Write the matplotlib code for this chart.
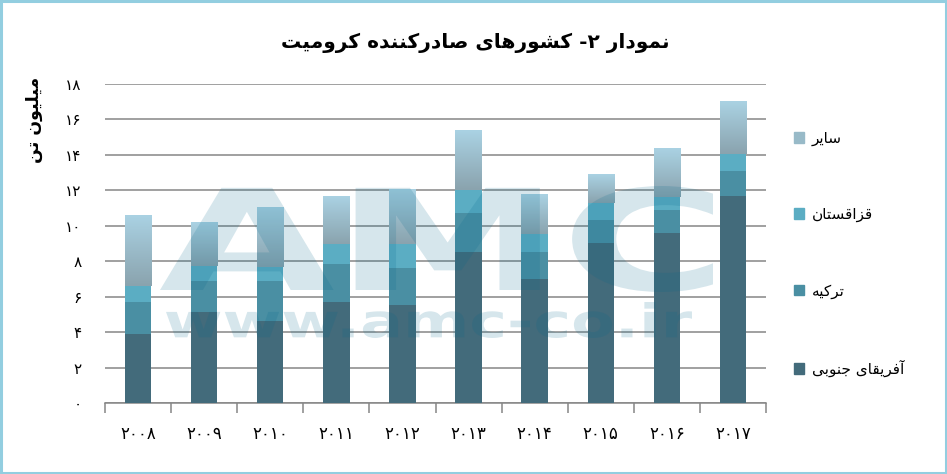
import matplotlib
matplotlib.use("Agg")
import matplotlib.pyplot as plt
import numpy as np
from matplotlib.colors import LinearSegmentedColormap
from matplotlib.patches import Patch, PathPatch, Rectangle
from matplotlib.textpath import TextPath
from matplotlib.font_manager import FontProperties
from matplotlib.transforms import Affine2D

# data (million tonnes)
years = ["۲۰۰۸", "۲۰۰۹", "۲۰۱۰", "۲۰۱۱", "۲۰۱۲", "۲۰۱۳", "۲۰۱۴", "۲۰۱۵", "۲۰۱۶", "۲۰۱۷"]
south_africa = [3.90, 5.14, 4.63, 5.70, 5.53, 8.52, 7.00, 9.03, 9.59, 11.68]
turkey = [1.80, 1.74, 2.25, 2.14, 2.11, 2.20, 1.52, 1.30, 1.30, 1.41]
kazakhstan = [0.90, 0.85, 0.79, 1.16, 1.33, 1.30, 1.02, 0.96, 0.71, 0.94]
other = [3.95, 2.48, 3.33, 2.68, 3.09, 3.38, 2.24, 1.63, 2.73, 2.95]
series_names = ["آفریقای جنوبی", "ترکیه", "قزاقستان", "سایر"]
y_ticks = [0, 2, 4, 6, 8, 10, 12, 14, 16, 18]
y_tick_labels = ["۰", "۲", "۴", "۶", "۸", "۱۰", "۱۲", "۱۴", "۱۶", "۱۸"]
title = "نمودار ۲- کشورهای صادرکننده کرومیت"
y_label = "میلیون تن"

W, H = 947, 474

# matplotlib has no arabic shaping, so pick presentation forms by hand
# (isolated, final, initial, medial)
FORMS = {
    "ا": (0xFE8D, 0xFE8E), "آ": (0xFE81, 0xFE82), "د": (0xFEA9, 0xFEAA),
    "ر": (0xFEAD, 0xFEAE), "ز": (0xFEAF, 0xFEB0), "و": (0xFEED, 0xFEEE),
    "ب": (0xFE8F, 0xFE90, 0xFE91, 0xFE92), "ت": (0xFE95, 0xFE96, 0xFE97, 0xFE98),
    "ج": (0xFE9D, 0xFE9E, 0xFE9F, 0xFEA0), "س": (0xFEB1, 0xFEB2, 0xFEB3, 0xFEB4),
    "ش": (0xFEB5, 0xFEB6, 0xFEB7, 0xFEB8), "ص": (0xFEB9, 0xFEBA, 0xFEBB, 0xFEBC),
    "ف": (0xFED1, 0xFED2, 0xFED3, 0xFED4), "ق": (0xFED5, 0xFED6, 0xFED7, 0xFED8),
    "ک": (0xFB8E, 0xFB8F, 0xFB90, 0xFB91), "ل": (0xFEDD, 0xFEDE, 0xFEDF, 0xFEE0),
    "م": (0xFEE1, 0xFEE2, 0xFEE3, 0xFEE4), "ن": (0xFEE5, 0xFEE6, 0xFEE7, 0xFEE8),
    "ه": (0xFEE9, 0xFEEA, 0xFEEB, 0xFEEC), "ی": (0xFBFC, 0xFBFD, 0xFBFE, 0xFBFF),
}
DIGITS = set("۰۱۲۳۴۵۶۷۸۹0123456789")


def shape(s):
    out = []
    for i, ch in enumerate(s):
        f = FORMS.get(ch)
        if f is None:
            out.append(ch)
            continue
        prev = s[i - 1] if i > 0 else ""
        nxt = s[i + 1] if i + 1 < len(s) else ""
        jp = prev in FORMS and len(FORMS[prev]) == 4
        jn = len(f) == 4 and nxt in FORMS
        if jp and jn:
            out.append(chr(f[3]))
        elif jp:
            out.append(chr(f[1]))
        elif jn:
            out.append(chr(f[2]))
        else:
            out.append(chr(f[0]))
    # visual order: reverse, but keep digit runs left to right
    runs = []
    for ch in out:
        if runs and ch in DIGITS and runs[-1][0] in DIGITS:
            runs[-1] += ch
        else:
            runs.append(ch)
    return "".join(reversed(runs))


def stamp(fig, text, x0, y0, x1, y1):
    path = TextPath((0, 0), text, size=100,
                    prop=FontProperties(family="DejaVu Sans", weight="bold"))
    ext = path.get_extents()
    tr = (Affine2D().translate(-ext.x0, -ext.y0)
          .scale((x1 - x0) / ext.width / W, (y1 - y0) / ext.height / H)
          .translate(x0 / W, 1 - y1 / H) + fig.transFigure)
    fig.patches.append(PathPatch(path, transform=tr, fc="#00688C", ec="none",
                                 alpha=0.16, zorder=5))


colors = ["#436B7B", "#4A8FA3", "#5BADC3", "#98BAC8"]
other_cmap = LinearSegmentedColormap.from_list("other", ["#8AA3AE", "#AAD2E3"])

plt.rcParams["font.family"] = ["DejaVu Sans"]
fig = plt.figure(figsize=(W / 100, H / 100), dpi=100)
ax = fig.add_axes([105 / W, 1 - 403 / H, 661 / W, 319 / H])

x = np.arange(len(years))
bw = 0.4
bottom = np.zeros(len(years))
containers = []
for vals, c in zip([south_africa, turkey, kazakhstan, other], colors):
    bc = ax.bar(x, vals, bw, bottom=bottom, color=c, zorder=3)
    containers.append(bc)
    bottom += np.array(vals)

# gradient fill for the "other" segments
grad = np.linspace(0, 1, 100).reshape(-1, 1)
for rect in containers[-1]:
    rect.set_visible(False)
    ax.imshow(grad, extent=[rect.get_x(), rect.get_x() + rect.get_width(),
                            rect.get_y(), rect.get_y() + rect.get_height()],
              origin="lower", aspect="auto", cmap=other_cmap, zorder=3)

ax.set_xlim(-0.5, len(years) - 0.5)
ax.set_ylim(0, 18)
ax.set_yticks(y_ticks)
ax.set_yticklabels(y_tick_labels, fontsize=11)
ax.tick_params(axis="y", length=0, pad=17)
ax.yaxis.grid(True, color="#868686", linewidth=1.1, zorder=0)
ax.set_axisbelow(True)

ax.set_xticks(x)
ax.set_xticklabels(years, fontsize=12)
ax.set_xticks(np.arange(-0.5, len(years)), minor=True)
ax.tick_params(axis="x", which="major", length=0, pad=16)
ax.tick_params(axis="x", which="minor", length=7, color="#868686", width=1.1)

for side in ["left", "right", "top"]:
    ax.spines[side].set_visible(False)
ax.spines["bottom"].set_color("#868686")
ax.spines["bottom"].set_linewidth(1.1)

fig.text(475 / W, 1 - 43 / H, shape(title), fontsize=14.5, fontweight="bold",
         ha="center", va="center")
fig.text(34 / W, 1 - 120 / H, shape(y_label), fontsize=12.5, fontweight="bold",
         rotation=90, ha="center", va="center")

handles = [Patch(color=c) for c in colors][::-1]
labels = [shape(n) for n in series_names][::-1]
fig.legend(handles, labels, loc="upper left", bbox_to_anchor=(786 / W, 1 - 123 / H),
           frameon=False, fontsize=11, handlelength=0.7, handleheight=0.7,
           handletextpad=0.5, labelspacing=4.0, borderpad=0)

stamp(fig, "AMC", 160, 186, 713, 292)
stamp(fig, "www.amc-co.ir", 166, 302, 692, 338)

fig.patches.append(Rectangle((0.0015, 0.003), 0.997, 0.994, transform=fig.transFigure,
                             fill=False, ec="#93CEE0", lw=2.2, zorder=10))

fig.savefig("out.png", dpi=100)
